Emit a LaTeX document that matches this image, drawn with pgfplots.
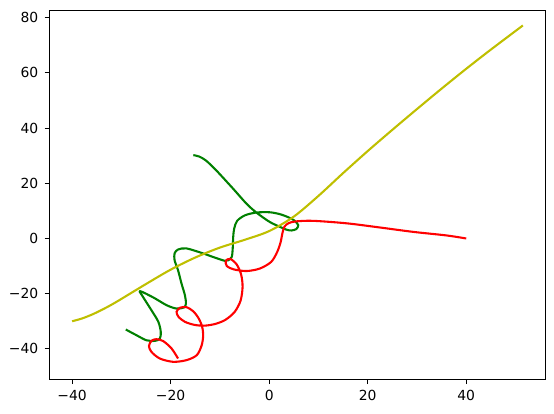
\documentclass[border=0pt]{standalone}
\usepackage{fontspec}
\setmainfont{DejaVu Sans}
\usepackage{pgfplots}
\pgfplotsset{compat=1.18}

\definecolor{mplY}{rgb}{0.75,0.75,0}
\definecolor{mplG}{rgb}{0,0.5,0}
\definecolor{mplR}{rgb}{1,0,0}

\begin{document}
\begin{tikzpicture}
  \begin{axis}[
    scale only axis,
    width=357pt, height=265.3pt,
    xmin=-44.6, xmax=56.1,
    ymin=-51, ymax=82.6,
    xtick={-40,-20,0,20,40},
    xticklabels={−40,−20,0,20,40},
    ytick={-40,-20,0,20,40,60,80},
    yticklabels={−40,−20,0,20,40,60,80},
    tick align=outside,
    tick pos=left,
    major tick length=3.5pt,
    every tick/.style={black, line width=0.8pt},
    axis line style={line width=0.8pt},
    tick label style={font=\fontsize{10}{12}\selectfont},
    xticklabel style={yshift=-1pt},
    yticklabel style={xshift=-1pt},
  ]
  % green
  \addplot[color=mplG, line width=1.5pt, smooth, tension=0.5] coordinates {
    (-15.4,30.2) (-14.2,29.7) (-12.8,28.2) (-10.7,24.6) (-7.3,18.0)
    (-4.6,12.6) (-2.6,9.4) (0.1,6.0) (2.2,4.2) (3.5,3.2)
    (4.5,2.9) (5.5,3.4) (5.9,4.8) (5.2,6.4) (4.0,7.6) (2.2,8.8)
    (0.1,9.5) (-2.6,9.4) (-4.9,8.4) (-6.5,6.4) (-7.1,3.6) (-7.3,0.6)
    (-7.4,-3.6) (-7.6,-6.7) (-8.3,-7.9) (-9.0,-8.1) (-11.4,-6.7)
    (-13.6,-5.3) (-16.8,-3.6) (-18.5,-4.0) (-19.2,-5.4) (-19.2,-7.9)
    (-18.5,-11.5) (-17.8,-16.3) (-17.1,-20.6) (-16.9,-23.6) (-17.3,-25.0)
    (-18.8,-25.4) (-20.8,-24.2) (-23.5,-21.4) (-26.2,-19.1) (-25.6,-21.2)
    (-23.9,-26.0) (-22.5,-30.2) (-22.0,-33.9) (-22.2,-36.3) (-23.2,-37.1)
    (-24.9,-36.9) (-26.9,-35.1) (-29.1,-33.0)
  };
  % yellow
  \addplot[color=mplY, line width=1.5pt, smooth, tension=0.5] coordinates {
    (-40,-30) (-38,-29.0) (-36,-27.6) (-34,-25.9) (-32,-24.0) (-30,-21.9)
    (-25,-16.5) (-20,-11.3) (-15,-6.9) (-10,-3.3) (-5,-0.5) (0,2.68)
    (5,7.93) (10,15.43) (15,23.68) (20,31.68) (25,39.37) (30,46.9)
    (35,54.3) (40,61.5) (45,68.45) (51.5,77.2)
  };
  % red
  \addplot[color=mplR, line width=1.5pt, smooth, tension=0.5] coordinates {
    (-18.5,-43.5) (-19.8,-39.9) (-21.5,-37.2) (-22.9,-36.5) (-23.9,-37.1)
    (-24.4,-39.0) (-23.9,-41.1) (-22.2,-43.5) (-19.5,-44.7) (-16.8,-44.1)
    (-14.7,-42.3) (-13.7,-38.7) (-13.4,-35.1) (-13.6,-32.0) (-14.3,-29.0)
    (-15.4,-26.4) (-16.8,-24.9) (-18.1,-25.1) (-18.8,-26.6) (-18.4,-28.4)
    (-17.1,-30.2) (-15.2,-31.3) (-13.2,-31.6) (-11.0,-31.0) (-8.9,-29.5)
    (-7.0,-26.6) (-5.8,-22.5) (-5.4,-17.5) (-5.7,-13.0) (-6.6,-9.4)
    (-7.9,-7.4) (-8.8,-8.1) (-8.6,-10.0) (-7.2,-11.2) (-4.6,-11.8)
    (-1.9,-10.9) (0.4,-8.5) (1.6,-5.0) (2.3,-1.5) (2.7,2.0) (3.1,4.3)
    (4.0,5.6) (5.5,6.2) (8.9,6.4) (15.7,5.5) (22.4,4.0) (29.2,2.4)
    (36.0,1.1) (40,0)
  };
  \end{axis}
  \path ([xshift=-35.6pt,yshift=-24.5pt]current axis.south west)
    rectangle ([xshift=6.1pt,yshift=7.6pt]current axis.north east);
\end{tikzpicture}
\end{document}
